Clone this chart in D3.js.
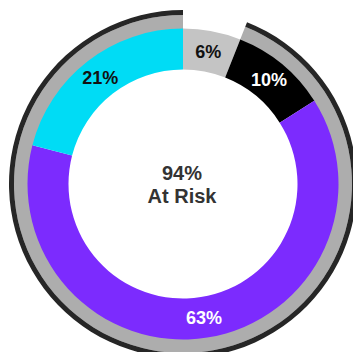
<!DOCTYPE html>
<html>
<head>
<meta charset="utf-8">
<script src="https://cdn.jsdelivr.net/npm/d3@7"></script>
<style>
  html, body { margin: 0; padding: 0; background: #fff; }
  svg { display: block; }
</style>
</head>
<body>
<svg id="chart" width="353" height="352"></svg>
<script>
const categories = ["Segment A", "Segment B", "Segment C", "Segment D"];
const values = [6, 10, 63, 21];
const labels = ["6%", "10%", "63%", "21%"];
const sliceColors = ["#c4c4c4", "#000000", "#7c2bfe", "#00dcf5"];
const labelColors = ["#111111", "#ffffff", "#ffffff", "#111111"];
const centerLines = ["94%", "At Risk"];
const atRiskValue = 94;

const svg = d3.select("#chart");
const cx = 183, cy = 184;
const rInner = 114.5, rOuter = 155.5, rBand = 169, rLine = 171.5;

const g = svg.append("g").attr("transform", `translate(${cx},${cy})`);

const pie = d3.pie().value(d => d).sort(null);
const arcs = pie(values);

const total = d3.sum(values);
const angle = d3.scaleLinear().domain([0, total]).range([0, 2 * Math.PI]);

// gray background band + outline covering the at-risk share
const riskStart = angle(total - atRiskValue);
const riskEnd = angle(total);

g.append("path")
  .attr("d", d3.arc().innerRadius(rOuter - 1).outerRadius(rBand)
    .startAngle(riskStart).endAngle(riskEnd)())
  .attr("fill", "#adadad");

g.append("path")
  .attr("d", d3.arc().innerRadius(rLine - 2.5).outerRadius(rLine + 2.5)
    .startAngle(riskStart).endAngle(riskEnd)())
  .attr("fill", "#262626");

const arcGen = d3.arc().innerRadius(rInner).outerRadius(rOuter);
g.selectAll("path.slice")
  .data(arcs)
  .enter().append("path")
  .attr("class", "slice")
  .attr("d", arcGen)
  .attr("fill", (d, i) => sliceColors[i]);

const labelArc = d3.arc().innerRadius((rInner + rOuter) / 2).outerRadius((rInner + rOuter) / 2);
g.selectAll("text.lbl")
  .data(arcs)
  .enter().append("text")
  .attr("class", "lbl")
  .attr("transform", d => `translate(${labelArc.centroid(d)})`)
  .attr("text-anchor", "middle")
  .attr("dy", "0.36em")
  .attr("font-family", "Liberation Sans, Arial, sans-serif")
  .attr("font-weight", "bold")
  .attr("font-size", 18)
  .attr("fill", (d, i) => labelColors[i])
  .text((d, i) => labels[i]);

const ct = g.append("text")
  .attr("text-anchor", "middle")
  .attr("font-family", "Liberation Sans, Arial, sans-serif")
  .attr("font-weight", "bold")
  .attr("font-size", 20)
  .attr("fill", "#333333");
ct.selectAll("tspan")
  .data(centerLines)
  .enter().append("tspan")
  .attr("x", -1)
  .attr("y", (d, i) => -4 + i * 23)
  .text(d => d);
</script>
</body>
</html>
